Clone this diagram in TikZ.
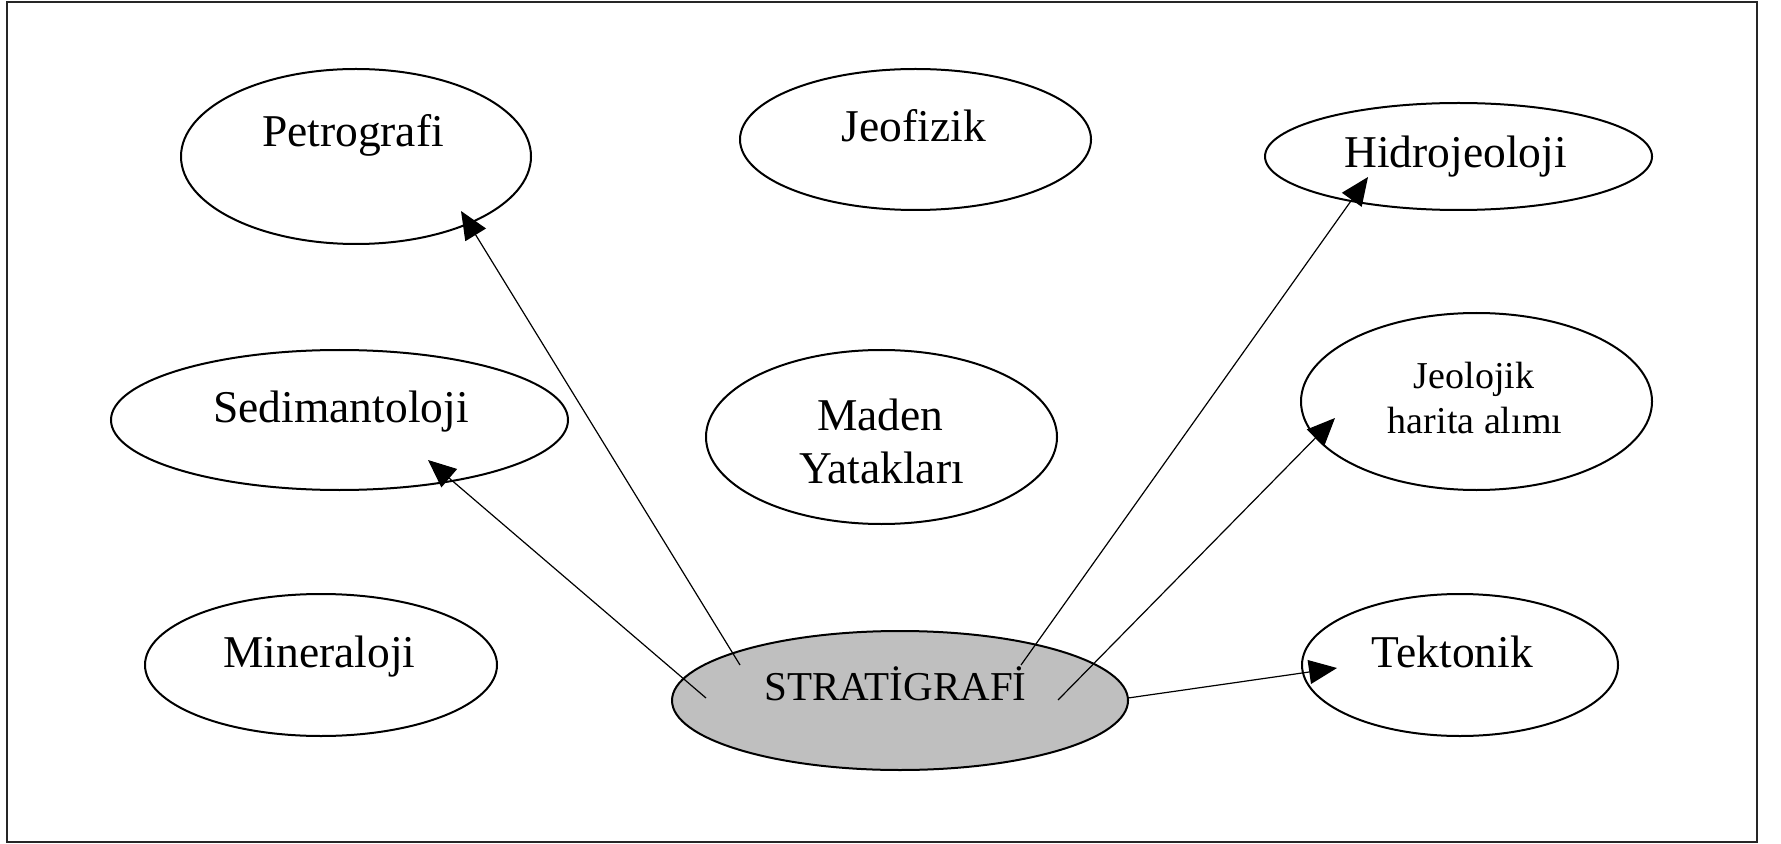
\documentclass[tikz,border=0pt]{standalone}
\usepackage{fontspec}
\setmainfont{Liberation Serif}
\usetikzlibrary{shapes.geometric,arrows.meta}
\begin{document}
\begin{tikzpicture}[x=0.5pt,y=-0.5pt,
  framebox/.style={draw=black!85, line width=1.3pt},
  oval/.style={draw=black, line width=1pt, ellipse, inner sep=0pt, outer sep=0pt},
  lbl/.style={anchor=base, inner sep=0pt, font=\fontsize{22.75}{27}\selectfont},
  smalllbl/.style={anchor=base, inner sep=0pt, font=\fontsize{19}{23}\selectfont},
  stratlbl/.style={anchor=base, inner sep=0pt, font=\fontsize{20.5}{25}\selectfont},
  conn/.style={line width=0.6pt, -{Triangle[length=14pt,width=12pt]}}]
\useasboundingbox (0,0) rectangle (1781,844);
\draw[framebox] (7,2) rectangle (1757,842);

% ellipses
\node[oval, minimum width=175pt, minimum height=87.5pt] (petro) at (356,156.5) {};
\node[oval, minimum width=175.5pt, minimum height=70.5pt] (jeof) at (915.5,139.5) {};
\node[oval, minimum width=193.5pt, minimum height=53.5pt] (hidro) at (1458.5,156.5) {};
\node[oval, minimum width=228.5pt, minimum height=70pt] (sedi) at (339.5,420) {};
\node[oval, minimum width=175.5pt, minimum height=87pt] (maden) at (881.5,437) {};
\node[oval, minimum width=175.5pt, minimum height=88.5pt] (jeol) at (1476.5,401.5) {};
\node[oval, minimum width=176pt, minimum height=71pt] (miner) at (321,665) {};
\node[oval, fill=black!25, minimum width=228pt, minimum height=69.5pt] (strat) at (900,700.5) {};
\node[oval, minimum width=158pt, minimum height=71pt] (tekt) at (1460,665) {};

% labels
\node[lbl] (petroT) at (353,147) {Petrografi};
\node[lbl] (jeofT) at (914,142) {Jeofizik};
\node[lbl] (hidroT) at (1455.5,168) {Hidrojeoloji};
\node[lbl] (sediT) at (341,422) {Sedimantoloji};
\node[lbl] (madenT1) at (880.5,430) {Maden};
\node[lbl] (madenT2) at (881.5,483) {Yatakları};
\node[smalllbl] (jeolT1) at (1474,388) {Jeolojik};
\node[smalllbl] (jeolT2) at (1475,433) {harita alımı};
\node[lbl] (minerT) at (319.5,667) {Mineraloji};
\node[stratlbl] (stratT) at (895.5,700) {STRATİGRAFİ};
\node[lbl] (tektT) at (1452.5,667) {Tektonik};

% connector end points
\coordinate (sPetro) at (740,665);
\coordinate (tPetro) at (461,211);
\coordinate (sSedi) at (706,698);
\coordinate (tSedi) at (428,460);
\coordinate (sHidro) at (1021,665);
\coordinate (tHidro) at (1368,177);
\coordinate (sJeol) at (1058,700);
\coordinate (tJeol) at (1335,418);
\coordinate (sTekt) at (1128,698);
\coordinate (tTekt) at (1337,668);

\draw[conn] (sPetro) -- (tPetro);
\draw[conn] (sSedi) -- (tSedi);
\draw[conn] (sHidro) -- (tHidro);
\draw[conn] (sJeol) -- (tJeol);
\draw[conn] (sTekt) -- (tTekt);
\end{tikzpicture}
\end{document}
